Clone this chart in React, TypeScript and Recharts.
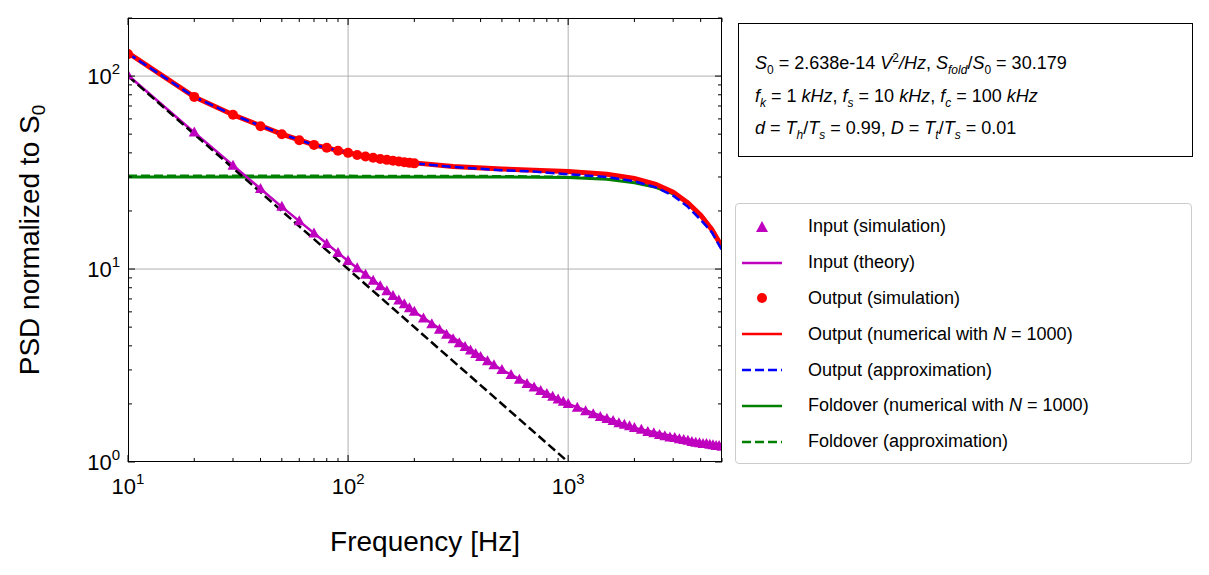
import React from "react";
import { ComposedChart, Line, Scatter, XAxis, YAxis, CartesianGrid } from "recharts";

const inputSimF = [10,20,30,40,50,60,70,80,90,100,110,120,130,140,150,160,170,180,190,200,220,240,260,280,300,320,340,360,380,400,430,460,500,550,600,650,700,750,800,850,900,950,1000,1100,1200,1300,1400,1500,1600,1700,1800,1900,2000,2150,2300,2450,2600,2750,2900,3050,3200,3350,3500,3650,3800,3950,4100,4250,4400,4550,4700,4850,5000];
const inputSimV = [101,51,34.3,26,21,17.7,15.3,13.5,12.1,11,10.1,9.33,8.69,8.14,7.67,7.25,6.88,6.56,6.26,6,5.55,5.17,4.85,4.57,4.33,4.13,3.94,3.78,3.63,3.5,3.33,3.17,3,2.82,2.67,2.54,2.43,2.33,2.25,2.18,2.11,2.05,2,1.91,1.83,1.77,1.71,1.67,1.63,1.59,1.56,1.53,1.5,1.47,1.43,1.41,1.38,1.36,1.34,1.33,1.31,1.3,1.29,1.27,1.26,1.25,1.24,1.24,1.23,1.22,1.21,1.21,1.2];
const inputTheoryF = [10,20,50,100,200,500,1000,2000,5000];
const inputTheoryV = [101,51,21,11,6,3,2,1.5,1.2];
const outSimF = [10,20,30,40,50,60,70,80,90,100,110,120,130,140,150,160,170,180,190,200];
const outSimV = [130,78,63,55,50,46.5,44,42.5,41,40,39,38.3,37.7,37.2,36.8,36.4,36.1,35.8,35.5,35.3];
const outF = [10,20,30,50,70,100,150,200,300,500,700,1000,1500,2000,2500,3000,3500,4000,4500,5000];
const outNumV = [132,78,63,50,44,40,37,35.5,34,33,32.5,32,31,29.5,27.5,25,22,19,16,13];
const outApproxV = [131,78,63,50,44,40,37,35.3,33.8,32.5,32,31,30,28.5,26.5,24,21,18,15.5,12.5];
const foldF = [10,100,500,1000,1500,2000,2500,3000,3500,4000,4500,5000];
const foldNumV = [30,30,30,29.8,29.2,28,26.5,24.5,22,19,16,13];
const foldApproxV = [30.4,30.4,30.3,30,29.4,28.3,26.8,24.8,22.3,19.3,16.3,13.3];
const refF = [10,1000];
const refV = [100,1];

const xMajor = [10, 100, 1000];
const yMajor = [1, 10, 100];
const xMinor = [20,30,40,50,60,70,80,90,200,300,400,500,600,700,800,900,2000,3000,4000,5000];
const yMinor = [2,3,4,5,6,7,8,9,20,30,40,50,60,70,80,90,200];

const toData = (f: number[], v: number[]) => f.map((x, i) => ({ f: x, v: v[i] }));
const FONT = "'Liberation Sans', Arial, sans-serif";

const XTick = (p: any) => {
  const { x, y, payload } = p;
  const major = xMajor.includes(payload.value);
  const top = 10;
  const bottom = 454;
  return (
    <g>
      <line x1={x} x2={x} y1={bottom} y2={bottom - (major ? 7 : 4)} stroke="#000" />
      <line x1={x} x2={x} y1={top} y2={top + (major ? 7 : 4)} stroke="#000" />
      {major && (
        <text x={x} y={bottom + 32} textAnchor="middle" fontSize={22} fontFamily={FONT} fill="#000">
          10<tspan dy={-10} fontSize={15}>{Math.round(Math.log10(payload.value))}</tspan>
        </text>
      )}
    </g>
  );
};
const YTick = (p: any) => {
  const { y, payload } = p;
  const major = yMajor.includes(payload.value);
  const left = 120;
  const right = 714;
  return (
    <g>
      <line x1={left} x2={left + (major ? 7 : 4)} y1={y} y2={y} stroke="#000" />
      <line x1={right} x2={right - (major ? 7 : 4)} y1={y} y2={y} stroke="#000" />
      {major && (
        <text x={left - 8} y={y + 8} textAnchor="end" fontSize={22} fontFamily={FONT} fill="#000">
          10<tspan dy={-10} fontSize={15}>{Math.round(Math.log10(payload.value))}</tspan>
        </text>
      )}
    </g>
  );
};

const Tri = (p: any) => {
  const { cx, cy } = p;
  return <polygon points={`${cx},${cy - 6} ${cx - 5.5},${cy + 4} ${cx + 5.5},${cy + 4}`} fill="#bf00bf" />;
};
const Dot = (p: any) => <circle cx={p.cx} cy={p.cy} r={5} fill="#ff0000" />;

const legendItems: [React.ReactNode, React.ReactNode][] = [
  [<svg width={40} height={14}><polygon points="20,1 14,12 26,12" fill="#bf00bf" /></svg>, "Input (simulation)"],
  [<svg width={40} height={14}><line x1={0} x2={40} y1={7} y2={7} stroke="#bf00bf" strokeWidth={2.5} /></svg>, "Input (theory)"],
  [<svg width={40} height={14}><circle cx={20} cy={7} r={5} fill="#f00" /></svg>, "Output (simulation)"],
  [<svg width={40} height={14}><line x1={0} x2={40} y1={7} y2={7} stroke="#f00" strokeWidth={2.5} /></svg>, <span>Output (numerical with <i>N</i> = 1000)</span>],
  [<svg width={40} height={14}><line x1={0} x2={40} y1={7} y2={7} stroke="#00f" strokeWidth={2.5} strokeDasharray="9 4" /></svg>, "Output (approximation)"],
  [<svg width={40} height={14}><line x1={0} x2={40} y1={7} y2={7} stroke="#008000" strokeWidth={2.5} /></svg>, <span>Foldover (numerical with <i>N</i> = 1000)</span>],
  [<svg width={40} height={14}><line x1={0} x2={40} y1={7} y2={7} stroke="#008000" strokeWidth={2.5} strokeDasharray="9 4" /></svg>, "Foldover (approximation)"],
];

export default function App() {
  return (
    <div style={{ position: "relative", width: 1193, height: 560, fontFamily: FONT }}>
      <ComposedChart width={720} height={560} margin={{ top: 10, right: 6, bottom: 0, left: 0 }}>
        <CartesianGrid stroke="#b0b0b0" strokeWidth={1} horizontalValues={yMajor.slice(1)} verticalValues={xMajor.slice(1)} />
        <XAxis type="number" dataKey="f" scale="log" domain={[10, 5000]} allowDataOverflow ticks={[...xMajor, ...xMinor]} tick={<XTick />} tickLine={false} axisLine={false} height={106} interval={0} />
        <YAxis type="number" dataKey="v" scale="log" domain={[1, 200]} allowDataOverflow ticks={[...yMajor, ...yMinor]} tick={<YTick />} tickLine={false} axisLine={false} width={120} interval={0} />
        <Line data={toData(foldF, foldNumV)} dataKey="v" stroke="#008000" strokeWidth={3} dot={false} isAnimationActive={false} />
        <Line data={toData(foldF, foldApproxV)} dataKey="v" stroke="#008000" strokeWidth={2.5} strokeDasharray="9 4" dot={false} isAnimationActive={false} />
        <Line data={toData(outF, outNumV)} dataKey="v" stroke="#ff0000" strokeWidth={5} dot={false} isAnimationActive={false} />
        <Line data={toData(outF, outApproxV)} dataKey="v" stroke="#0000ff" strokeWidth={2.5} strokeDasharray="9 4" dot={false} isAnimationActive={false} />
        <Line data={toData(inputTheoryF, inputTheoryV)} dataKey="v" stroke="#bf00bf" strokeWidth={2.5} dot={false} isAnimationActive={false} />
        <Line data={toData(refF, refV)} dataKey="v" stroke="#000" strokeWidth={2.5} strokeDasharray="9 4" dot={false} isAnimationActive={false} />
        <Scatter data={toData(inputSimF, inputSimV)} dataKey="v" shape={<Tri />} isAnimationActive={false} />
        <Scatter data={toData(outSimF, outSimV)} dataKey="v" shape={<Dot />} isAnimationActive={false} />
      </ComposedChart>
      <div style={{ position: "absolute", left: 120, top: 10, width: 594, height: 444, border: "1.5px solid #000", boxSizing: "border-box", pointerEvents: "none" }} />
      <div style={{ position: "absolute", left: 417, top: 518, transform: "translateX(-50%)", fontSize: 28, whiteSpace: "nowrap" }}>Frequency [Hz]</div>
      <div style={{ position: "absolute", left: 24, top: 232, transform: "translate(-50%,-50%) rotate(-90deg)", fontSize: 28, whiteSpace: "nowrap" }}>
        PSD normalized to S<sub style={{ fontSize: 19 }}>0</sub>
      </div>
      <div style={{ position: "absolute", left: 730, top: 15, width: 455, height: 134, border: "1.5px solid #000", boxSizing: "border-box", padding: "18px 0 0 16px", fontSize: 18, lineHeight: "32px", whiteSpace: "nowrap" }}>
        <div><i>S</i><sub style={{ fontSize: 12 }}>0</sub> = 2.638e-14 <i>V</i><sup style={{ fontSize: 12 }}>2</sup><i>/Hz</i>, <i>S</i><sub style={{ fontSize: 12 }}><i>fold</i></sub>/<i>S</i><sub style={{ fontSize: 12 }}>0</sub> = 30.179</div>
        <div style={{ marginTop: -6 }}><i>f</i><sub style={{ fontSize: 12 }}><i>k</i></sub> = 1 <i>kHz</i>, <i>f</i><sub style={{ fontSize: 12 }}><i>s</i></sub> = 10 <i>kHz</i>, <i>f</i><sub style={{ fontSize: 12 }}><i>c</i></sub> = 100 <i>kHz</i></div>
        <div style={{ marginTop: -6 }}><i>d</i> = <i>T</i><sub style={{ fontSize: 12 }}><i>h</i></sub>/<i>T</i><sub style={{ fontSize: 12 }}><i>s</i></sub> = 0.99, <i>D</i> = <i>T</i><sub style={{ fontSize: 12 }}><i>t</i></sub>/<i>T</i><sub style={{ fontSize: 12 }}><i>s</i></sub> = 0.01</div>
      </div>
      <div style={{ position: "absolute", left: 727, top: 195, width: 457, height: 261, border: "1.5px solid #ccc", borderRadius: 4, boxSizing: "border-box", padding: "5px 0 0 6px", fontSize: 18 }}>
        {legendItems.map(([icon, label], i) => (
          <div key={i} style={{ display: "flex", alignItems: "center", height: 35.8 }}>
            {icon}<span style={{ marginLeft: 26, whiteSpace: "nowrap" }}>{label}</span>
          </div>
        ))}
      </div>
    </div>
  );
}
